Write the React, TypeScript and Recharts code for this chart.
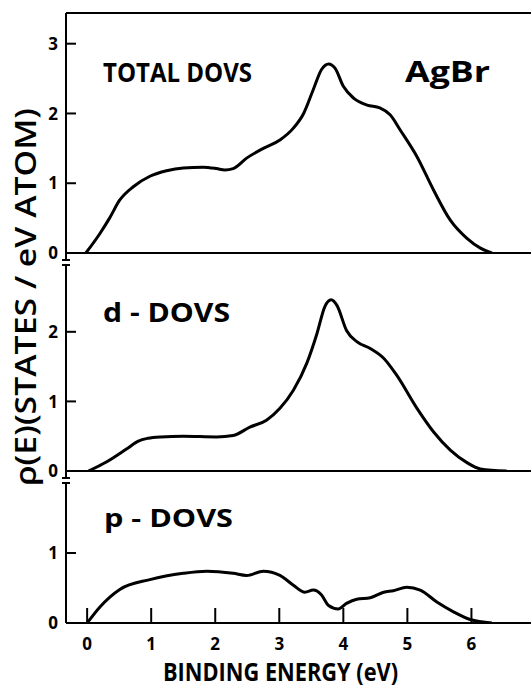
import React from "react";
import { LineChart, Line, XAxis, YAxis, ReferenceLine } from "recharts";

// ---- data (binding energy in eV, density of valence states) ----
const totalE = [-0.02, 0.2, 0.35, 0.51, 0.72, 0.98, 1.24, 1.5, 1.81, 2.02, 2.15, 2.28, 2.49, 2.75, 3.01, 3.22, 3.38, 3.53, 3.66, 3.77, 3.87, 4.0, 4.16, 4.37, 4.57, 4.73, 4.89, 5.15, 5.41, 5.67, 5.93, 6.14, 6.32];
const totalDos = [0, 0.28, 0.5, 0.76, 0.95, 1.1, 1.18, 1.22, 1.23, 1.21, 1.19, 1.21, 1.36, 1.5, 1.62, 1.79, 2.0, 2.34, 2.63, 2.71, 2.65, 2.39, 2.22, 2.12, 2.08, 1.98, 1.76, 1.38, 0.9, 0.47, 0.21, 0.07, 0.0];

const dE = [0.02, 0.3, 0.62, 0.8, 0.95, 1.15, 1.5, 2.02, 2.28, 2.54, 2.8, 3.01, 3.22, 3.43, 3.59, 3.71, 3.81, 3.9, 4.05, 4.21, 4.42, 4.63, 4.83, 5.15, 5.41, 5.67, 5.93, 6.14, 6.55];
const dDos = [0, 0.13, 0.32, 0.43, 0.47, 0.49, 0.5, 0.49, 0.51, 0.63, 0.73, 0.9, 1.16, 1.55, 1.98, 2.36, 2.46, 2.38, 2.02, 1.86, 1.76, 1.62, 1.38, 0.9, 0.56, 0.3, 0.12, 0.03, 0];

const pE = [0, 0.2, 0.51, 0.98, 1.5, 1.87, 2.28, 2.49, 2.75, 3.01, 3.22, 3.4, 3.53, 3.66, 3.77, 3.92, 4.05, 4.21, 4.42, 4.63, 4.78, 4.99, 5.2, 5.46, 5.72, 5.98, 6.32];
const pDos = [0, 0.23, 0.48, 0.62, 0.71, 0.74, 0.71, 0.68, 0.74, 0.68, 0.54, 0.44, 0.47, 0.4, 0.25, 0.2, 0.28, 0.34, 0.36, 0.44, 0.46, 0.51, 0.47, 0.3, 0.16, 0.05, 0];

const xTicks = [0, 1, 2, 3, 4, 5, 6];
const totalTicks = [0, 1, 2, 3];
const dTicks = [0, 1, 2];
const pTicks = [0, 1];

const panelLabels = ["TOTAL DOVS", "d - DOVS", "p - DOVS"];
const compound = "AgBr";
const xTitle = "BINDING ENERGY (eV)";
const yTitle = "\u03c1(E)(STATES / eV ATOM)";

const toRows = (xs: number[], ys: number[]) => xs.map((e, i) => ({ e, v: ys[i] }));
const totalData = toRows(totalE, totalDos);
const dData = toRows(dE, dDos);
const pData = toRows(pE, pDos);

const X_DOMAIN: [number, number] = [-0.33, 6.93];
const FONT = "'Open Sans', 'DejaVu Sans', sans-serif";
const W = 531;

const YTick = (props: any) => {
  const { x, y, payload, showBreak } = props;
  return (
    <g>
      <line x1={x} x2={x + 10} y1={y} y2={y} stroke="#000" strokeWidth={2} />
      <text x={x - 8} y={y} dy="0.36em" textAnchor="end" fontFamily={FONT} fontWeight={700} fontSize={17} fill="#000">
        {payload.value}
      </text>
      {showBreak && payload.value === 0 ? (
        <g stroke="#000" strokeWidth={2}>
          <line x1={x} x2={x} y1={y} y2={y + 7} />
          <line x1={x - 4} x2={x + 4} y1={y + 7} y2={y + 7} />
          <line x1={x - 4} x2={x + 4} y1={y + 12} y2={y + 12} />
        </g>
      ) : null}
    </g>
  );
};

const XTick = (props: any) => {
  const { x, y, payload } = props;
  return (
    <g>
      <line x1={x} x2={x} y1={y} y2={y - 15} stroke="#000" strokeWidth={2} />
      <text x={x} y={y + 21} dy="0.36em" textAnchor="middle" fontFamily={FONT} fontWeight={700} fontSize={17} fill="#000">
        {payload.value}
      </text>
    </g>
  );
};

export default function App() {
  return (
    <div style={{ position: "absolute", left: 0, top: 0, width: W, height: 688, background: "#fff" }}>
      {/* Panel 1: total */}
      <div style={{ position: "absolute", left: 0, top: 0 }}>
        <LineChart width={W} height={272} data={totalData} margin={{ top: 13, right: 0, bottom: 19, left: 0 }}>
          <XAxis type="number" dataKey="e" domain={X_DOMAIN} hide allowDataOverflow />
          <YAxis
            type="number"
            domain={[0, 3.44]}
            ticks={totalTicks}
            width={66}
            tickSize={0}
            tickMargin={0}
            tickLine={false}
            axisLine={{ stroke: "#000", strokeWidth: 2 }}
            tick={(p: any) => <YTick {...p} showBreak />}
            allowDataOverflow
          />
          <ReferenceLine y={0} stroke="#000" strokeWidth={2} />
          <ReferenceLine y={3.44} stroke="#000" strokeWidth={2} />
          <Line type="monotone" dataKey="v" stroke="#000" strokeWidth={3} dot={false} isAnimationActive={false} />
        </LineChart>
      </div>
      {/* Panel 2: d */}
      <div style={{ position: "absolute", left: 0, top: 255 }}>
        <LineChart width={W} height={236} data={dData} margin={{ top: 10, right: 0, bottom: 20, left: 0 }}>
          <XAxis type="number" dataKey="e" domain={X_DOMAIN} hide allowDataOverflow />
          <YAxis
            type="number"
            domain={[0, 2.96]}
            ticks={dTicks}
            width={66}
            tickSize={0}
            tickMargin={0}
            tickLine={false}
            axisLine={{ stroke: "#000", strokeWidth: 2 }}
            tick={(p: any) => <YTick {...p} showBreak />}
            allowDataOverflow
          />
          <ReferenceLine y={0} stroke="#000" strokeWidth={2} />
          <Line type="monotone" dataKey="v" stroke="#000" strokeWidth={3} dot={false} isAnimationActive={false} />
        </LineChart>
      </div>
      {/* Panel 3: p */}
      <div style={{ position: "absolute", left: 0, top: 473 }}>
        <LineChart width={W} height={215} data={pData} margin={{ top: 10, right: 0, bottom: 0, left: 0 }}>
          <XAxis
            type="number"
            dataKey="e"
            domain={X_DOMAIN}
            ticks={xTicks}
            height={65}
            tickSize={0}
            tickMargin={0}
            tickLine={false}
            axisLine={{ stroke: "#000", strokeWidth: 2 }}
            tick={(p: any) => <XTick {...p} />}
            allowDataOverflow
          />
          <YAxis
            type="number"
            domain={[0, 2.0]}
            ticks={pTicks}
            width={66}
            tickSize={0}
            tickMargin={0}
            tickLine={false}
            axisLine={{ stroke: "#000", strokeWidth: 2 }}
            tick={(p: any) => <YTick {...p} />}
            allowDataOverflow
          />
          <Line type="monotone" dataKey="v" stroke="#000" strokeWidth={3} dot={false} isAnimationActive={false} />
        </LineChart>
      </div>
      {/* Text overlay */}
      <svg width={W} height={688} style={{ position: "absolute", left: 0, top: 0, pointerEvents: "none" }}>
        <g fontFamily={FONT} fontWeight={700} fill="#000">
          <text x={103} y={82} fontSize={26} textLength={149} lengthAdjust="spacingAndGlyphs">{panelLabels[0]}</text>
          <text x={405} y={82} fontSize={29} textLength={85} lengthAdjust="spacingAndGlyphs">{compound}</text>
          <text x={103} y={322} fontSize={27} textLength={127} lengthAdjust="spacingAndGlyphs">{panelLabels[1]}</text>
          <text x={104} y={527} fontSize={25} textLength={129} lengthAdjust="spacingAndGlyphs">{panelLabels[2]}</text>
          <text x={163} y={681} fontSize={25} textLength={235} lengthAdjust="spacingAndGlyphs">{xTitle}</text>
          <text transform="translate(36,486) rotate(-90)" fontSize={29} fontWeight={600} textLength={378} lengthAdjust="spacingAndGlyphs">{yTitle}</text>
        </g>
      </svg>
    </div>
  );
}
